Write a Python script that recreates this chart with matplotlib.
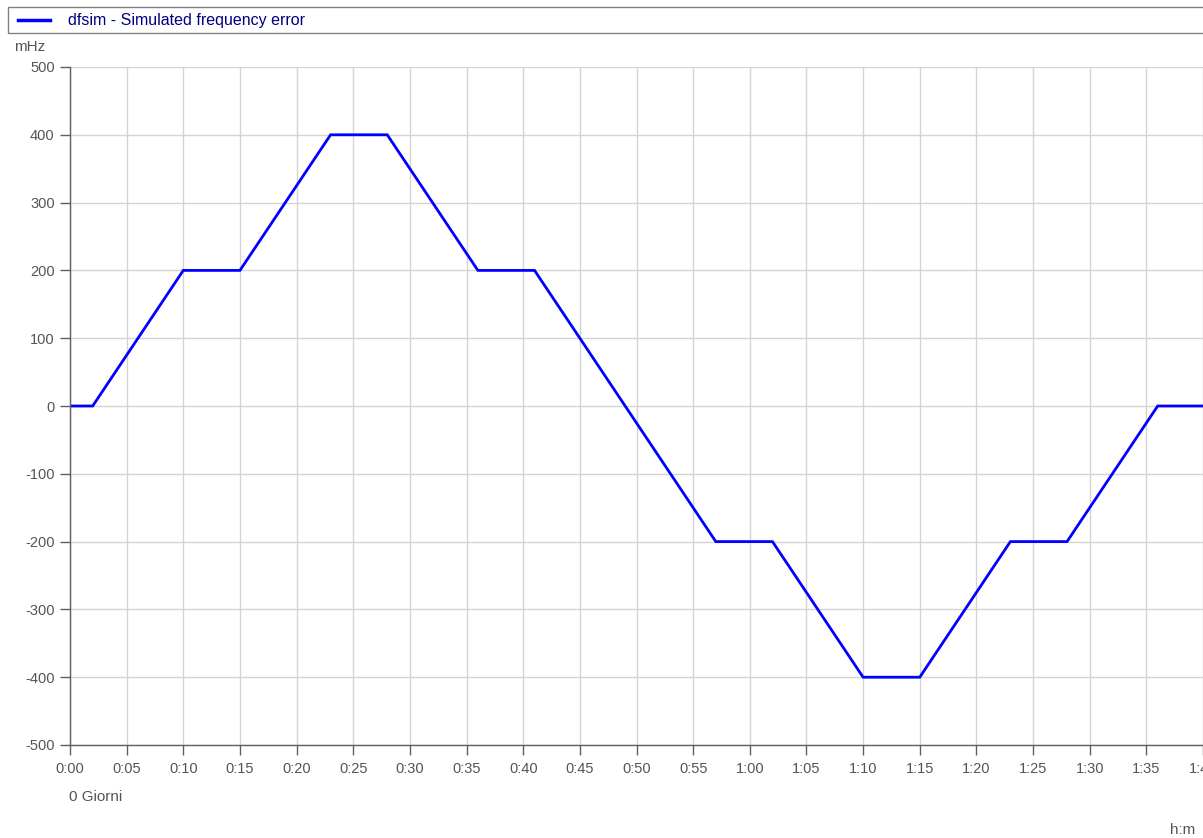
import matplotlib.pyplot as plt
from matplotlib.patches import Rectangle

plt.rcParams['font.family'] = ['Liberation Sans', 'DejaVu Sans']
plt.rcParams['axes.unicode_minus'] = False

# Simulated frequency error profile (minutes, mHz)
minutes = [0, 2, 10, 15, 23, 28, 36, 41, 57, 62, 70, 75, 83, 88, 96, 100]
dfsim = [0, 0, 200, 200, 400, 400, 200, 200, -200, -200, -400, -400, -200, -200, 0, 0]

x_ticks = list(range(0, 101, 5))
x_labels = [f'{m // 60}:{m % 60:02d}' for m in x_ticks]
y_ticks = list(range(-500, 501, 100))

text_col = '#555555'

fig = plt.figure(figsize=(12.03, 8.38), dpi=100)
ax = fig.add_axes([70 / 1203, 1 - 745 / 838, (1203 - 70) / 1203, (745 - 67) / 838])

ax.plot(minutes, dfsim, color='#0000ff', linewidth=2.0, solid_joinstyle='miter')

ax.set_xlim(0, 100)
ax.set_ylim(-500, 500)
ax.set_xticks(x_ticks)
ax.set_xticklabels(x_labels)
ax.set_yticks(y_ticks)
ax.grid(True, color='#d4d4d4', linewidth=1.0)
ax.set_axisbelow(True)

for s in ['top', 'right']:
    ax.spines[s].set_visible(False)
for s in ['left', 'bottom']:
    ax.spines[s].set_color('#606060')
    ax.spines[s].set_linewidth(1.0)

ax.tick_params(axis='both', colors='#606060', labelcolor=text_col, labelsize=10.5,
               length=7, width=1.0, direction='out')
ax.tick_params(axis='x', pad=5)
ax.tick_params(axis='y', pad=4)

# Legend box spanning the top
fig.patches.append(Rectangle((8 / 1203, 1 - 33 / 838), 1.0, 26 / 838,
                             transform=fig.transFigure, fill=False,
                             edgecolor='#808080', linewidth=1.0))
fig.lines.append(plt.Line2D([18 / 1203, 50 / 1203], [1 - 20 / 838, 1 - 20 / 838],
                            transform=fig.transFigure, color='#0000ff', linewidth=2.5))
fig.text(68 / 1203, 1 - 20 / 838, 'dfsim - Simulated frequency error',
         color='#000080', fontsize=11.5, va='center', ha='left')

fig.text(14 / 1203, 1 - 47 / 838, 'mHz', color=text_col, fontsize=11, va='center', ha='left')
fig.text(69 / 1203, 1 - 797 / 838, '0 Giorni', color=text_col, fontsize=11, va='center', ha='left')
fig.text(1195 / 1203, 1 - 830 / 838, 'h:m', color=text_col, fontsize=11, va='center', ha='right')

fig.savefig('out.png', dpi=100)
